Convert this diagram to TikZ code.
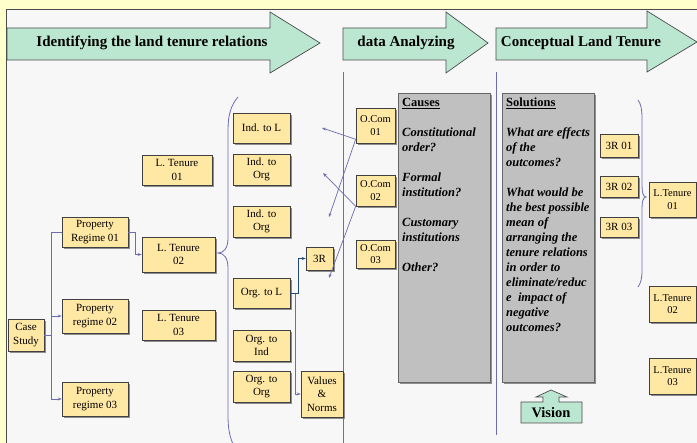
\documentclass[tikz,border=0pt]{standalone}
\usepackage{fontspec}
\setmainfont{Liberation Serif}
\usetikzlibrary{shadows,arrows.meta,calc}
\definecolor{outerY}{HTML}{FFFFCC}
\definecolor{innerG}{HTML}{F7F7F7}
\definecolor{boxF}{HTML}{FFE7A4}
\definecolor{arrG}{HTML}{BBE7D1}
\definecolor{lineP}{HTML}{6C6CB0}
\definecolor{lineB}{HTML}{1F4B7A}
\definecolor{grayF}{HTML}{C0C0C0}
\begin{document}
\begin{tikzpicture}[x=1pt,y=-1pt,
  ybox/.style={draw=black!75, fill=boxF, line width=0.6pt,
    drop shadow={shadow xshift=1.6pt,shadow yshift=-1.6pt,fill=black!55,opacity=0.8},
    inner sep=0pt, align=center, font=\fontsize{11}{13.5}\selectfont},
  sbox/.style={ybox, font=\fontsize{10.5}{12.5}\selectfont},
  gbox/.style={draw=black!60, fill=grayF, line width=0.7pt,
    drop shadow={shadow xshift=1.6pt,shadow yshift=-1.6pt,fill=black!55,opacity=0.8}, inner sep=0pt},
  garrow/.style={fill=arrG, draw=black!70, line width=0.7pt},
  htext/.style={font=\fontsize{15}{18}\selectfont\bfseries, inner sep=0pt},
  gtext/.style={anchor=north west, inner sep=0pt, align=left, font=\fontsize{12.5}{15}\selectfont\bfseries\itshape},
  conn/.style={draw=lineP, line width=0.7pt},
  tip/.style={-{Stealth[length=4pt,width=3pt]}},
  brace/.style={draw=lineP, line width=0.8pt}
]
\useasboundingbox (0,0) rectangle (697,443);
% background
\fill[outerY] (0,0) rectangle (697,443);
\fill[innerG] (6,9) rectangle (697,443);
\draw[black!70, line width=0.8pt] (697,9) -- (6,9) -- (6,443);

% header arrows
\path[garrow] (7,28) -- (270,28) -- (270,12) -- (320,43) -- (270,73) -- (270,60) -- (7,60) -- cycle;
\path[garrow] (343,28) -- (446,28) -- (446,12) -- (488,43) -- (446,73) -- (446,60) -- (343,60) -- cycle;
\path[garrow] (496,28) -- (647,28) -- (647,11) -- (697,42) -- (647,72) -- (647,60) -- (496,60) -- cycle;
\node[htext] (h1) at (152,43) {Identifying the land tenure relations};
\node[htext] (h2) at (406,43) {data Analyzing};
\node[htext] (h3) at (581,43) {Conceptual Land Tenure};

% separators
\draw[conn, line width=0.9pt] (343,72) -- (343,443);
\draw[conn, line width=0.9pt] (496,72) -- (496,435);

% left part
\node[ybox, minimum width=36pt, minimum height=32pt] (cs) at (26,335) {Case\\Study};
\node[ybox, minimum width=66pt, minimum height=30pt] (pr1) at (95,232) {Property\\Regime 01};
\node[ybox, minimum width=66pt, minimum height=34pt] (pr2) at (95,316) {Property\\regime 02};
\node[ybox, minimum width=66pt, minimum height=34pt] (pr3) at (95,399) {Property\\regime 03};
\node[ybox, minimum width=70pt, minimum height=30pt] (lt1) at (177,170) {L. Tenure\\01};
\node[ybox, minimum width=73pt, minimum height=35pt] (lt2) at (178.5,254.5) {L. Tenure\\02};
\node[ybox, minimum width=73pt, minimum height=30pt] (lt3) at (178.5,325) {L. Tenure\\03};

\draw[conn] (cs.east) -- ++(7,0) |- (pr1.west);
\draw[conn, tip] (cs.east) -- ++(7,0) |- (pr2.west);
\draw[conn, tip] (cs.east) -- ++(7,0) |- (pr3.west);
\draw[conn, tip] (pr1.east) -- ++(7,0) |- (lt2.west);

% big brace
\path[brace] (238,97) .. controls (231,105) and (228,115) .. (228,130) -- (228,238)
  .. controls (228,248) and (224,253) .. (218,253)
  .. controls (224,253) and (228,258) .. (228,268) -- (228,415)
  .. controls (228,430) and (230,438) .. (234,446);

\node[ybox, minimum width=57pt, minimum height=30pt] (i1) at (261.5,128) {Ind. to L};
\node[ybox, minimum width=57pt, minimum height=31pt] (i2) at (261.5,169.5) {Ind. to\\Org};
\node[ybox, minimum width=57pt, minimum height=31pt] (i3) at (261.5,221.5) {Ind. to\\Org};
\node[ybox, minimum width=57pt, minimum height=30pt] (o1) at (261.5,293) {Org. to L};
\node[ybox, minimum width=57pt, minimum height=31pt] (o2) at (261.5,345.5) {Org. to\\Ind};
\node[ybox, minimum width=57pt, minimum height=31pt] (o3) at (261.5,386.5) {Org. to\\Org};
\node[ybox, minimum width=27pt, minimum height=23pt] (r3) at (319.5,258.5) {3R};
\node[ybox, minimum width=42pt, minimum height=46pt] (vn) at (322,394) {Values\\\&\\Norms};

\draw[conn, tip] (o1.east) -- ++(5,0) |- (vn.west);
\draw[draw=lineB, line width=0.8pt, tip] (o1.east) -- ++(8,0) |- (r3.west);

% O.Com
\node[sbox, minimum width=39pt, minimum height=35pt] (oc1) at (375.5,125.5) {O.Com\\01};
\node[sbox, minimum width=39pt, minimum height=31pt] (oc2) at (375.5,190.5) {O.Com\\02};
\node[sbox, minimum width=39pt, minimum height=28pt] (oc3) at (375.5,254) {O.Com\\03};
\coordinate (a1) at (322,128);
\coordinate (a2) at (329,217);
\coordinate (a3) at (323,173);
\coordinate (a4) at (329,278);
\draw[conn, tip] ([yshift=4pt]oc1.south west) -- (a1);
\draw[conn, tip] ([yshift=4pt]oc1.south west) -- (a2);
\draw[conn, tip] (oc2.south west) -- (a3);
\draw[conn, tip] (oc2.south west) -- (a4);

% gray boxes
\node[gbox, minimum width=92pt, minimum height=289pt] (cb) at (444,237.5) {};
\node[gbox, minimum width=92pt, minimum height=289pt] (sb) at (548,237.5) {};
\node[gtext] (ct) at (402,98) {\textup{\underline{Causes}}\\[15pt]Constitutional\\order?\\[15pt]Formal\\institution?\\[15pt]Customary\\institutions\\[15pt]Other?};
\node[gtext] (st) at (506,98) {\textup{\underline{Solutions}}\\[15pt]What are effects\\of the\\outcomes?\\[15pt]What would be\\the best possible\\mean of\\arranging the\\tenure relations\\in order to\\eliminate/reduc\\e\ \ impact of\\negative\\outcomes?};

% vision
\path[garrow] (521,423) -- (521,402) -- (543,402) -- (543,397) -- (536,397) -- (551,390) -- (567,397) -- (559,397) -- (559,402) -- (582,402) -- (582,423) -- cycle;
\node[font=\fontsize{14.5}{17}\selectfont\bfseries, inner sep=0pt] (vis) at (551,413) {Vision};

% right part
\node[ybox, minimum width=38pt, minimum height=23pt] (t1) at (619,145.5) {3R 01};
\node[ybox, minimum width=38pt, minimum height=21pt] (t2) at (619,186.5) {3R 02};
\node[ybox, minimum width=38pt, minimum height=20pt] (t3) at (619,227) {3R 03};
\path[brace] (638,100) .. controls (641,104) and (642,110) .. (642,118) -- (642,185)
  .. controls (642,192) and (643,197) .. (646,197)
  .. controls (643,197) and (642,202) .. (642,209) -- (642,270)
  .. controls (642,278) and (641,283) .. (638,287);
\node[sbox, minimum width=47pt, minimum height=35pt] (rl1) at (672.5,199.5) {L.Tenure\\01};
\node[sbox, minimum width=47pt, minimum height=36pt] (rl2) at (672.5,304) {L.Tenure\\02};
\node[sbox, minimum width=47pt, minimum height=36pt] (rl3) at (672.5,376) {L.Tenure\\03};
\end{tikzpicture}
\end{document}
